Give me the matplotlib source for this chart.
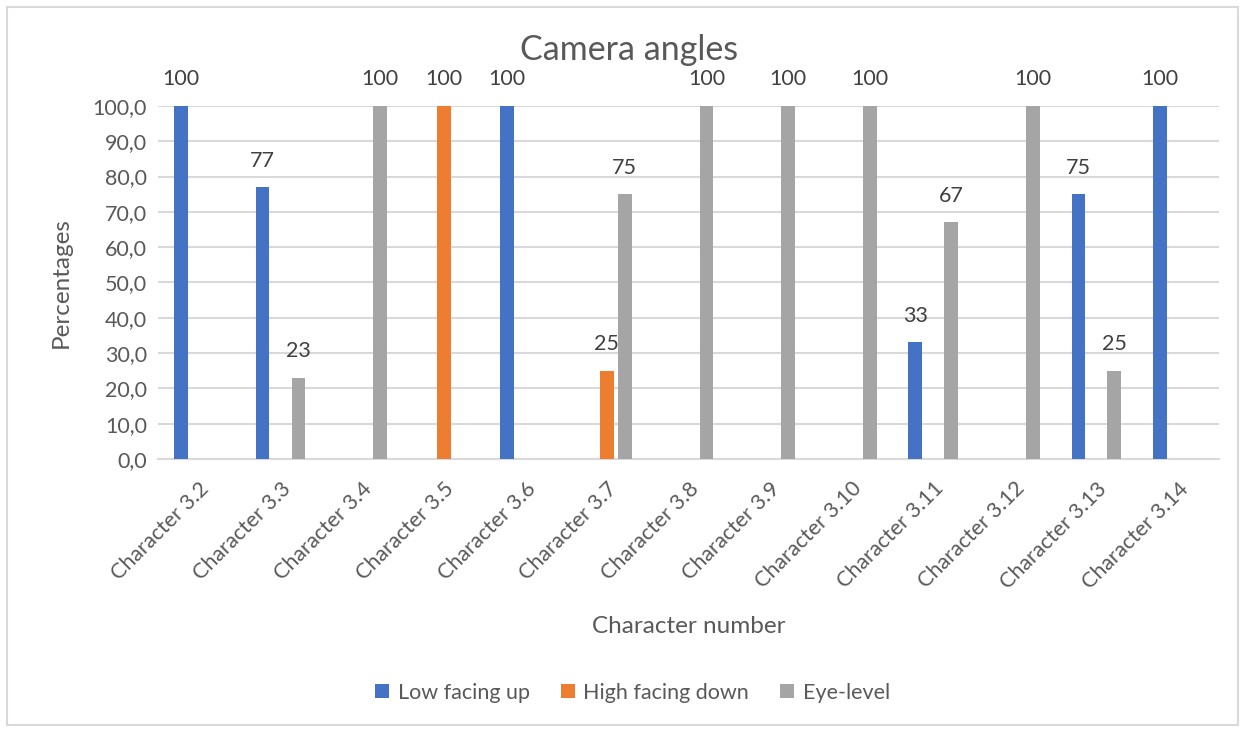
import numpy as np
import matplotlib.pyplot as plt
from matplotlib.patches import Rectangle

plt.rcParams['font.family'] = ['Lato', 'DejaVu Sans']

characters = ['Character 3.2', 'Character 3.3', 'Character 3.4', 'Character 3.5',
              'Character 3.6', 'Character 3.7', 'Character 3.8', 'Character 3.9',
              'Character 3.10', 'Character 3.11', 'Character 3.12', 'Character 3.13',
              'Character 3.14']
low_facing_up = [100, 77, 0, 0, 100, 0, 0, 0, 0, 33, 0, 75, 100]
high_facing_down = [0, 0, 0, 100, 0, 25, 0, 0, 0, 0, 0, 0, 0]
eye_level = [0, 23, 100, 0, 0, 75, 100, 100, 100, 67, 100, 25, 0]

series = [
    ('Low facing up', low_facing_up, '#4472C4'),
    ('High facing down', high_facing_down, '#ED7D31'),
    ('Eye-level', eye_level, '#A5A5A5'),
]

text_color = '#595959'
grid_color = '#D9D9D9'

fig = plt.figure(figsize=(12.45, 7.29), dpi=100)
ax = fig.add_axes([0.127, 0.3704, 0.852, 0.4842])

x = np.arange(len(characters))
slot = 0.22
width = 0.17
for i, (name, values, color) in enumerate(series):
    bars = ax.bar(x + (i - 1) * slot, values, width=width, color=color,
                  label=name, zorder=3)
    labels = [f'{v:.0f}' if v > 0 else '' for v in values]
    ax.bar_label(bars, labels=labels, padding=12, fontsize=15.5, color='#404040')

ax.set_xlim(-0.5, len(characters) - 0.5)
ax.set_ylim(0, 100)
ax.set_yticks(np.arange(0, 101, 10))
ax.set_yticklabels([f'{v:.1f}'.replace('.', ',') for v in range(0, 101, 10)])
ax.set_xticks(x)
ax.set_xticklabels(characters, rotation=45, ha='right', rotation_mode='anchor')
ax.tick_params(axis='both', length=0, labelsize=15.5, labelcolor=text_color)
ax.tick_params(axis='x', pad=14)
ax.tick_params(axis='y', pad=8)
ax.yaxis.grid(True, color=grid_color, linewidth=1.5, zorder=0)
for side in ['top', 'right', 'left']:
    ax.spines[side].set_visible(False)
ax.spines['bottom'].set_color(grid_color)
ax.spines['bottom'].set_linewidth(1.5)

ax.set_ylabel('Percentages', fontsize=17.5, color=text_color, labelpad=15)
ax.set_xlabel('Character number', fontsize=17.5, color=text_color, labelpad=17)

fig.text(0.505, 0.932, 'Camera angles', ha='center', va='center',
         fontsize=24.5, color=text_color)

handles, names = ax.get_legend_handles_labels()
fig.legend(handles, names, loc='center', bbox_to_anchor=(0.508, 0.05), ncol=3,
           frameon=False, fontsize=15.5, labelcolor=text_color, handlelength=0.65,
           handleheight=0.65, handletextpad=0.4, columnspacing=1.45)

fig.patches.append(Rectangle((0.006, 0.006), 0.988, 0.985, transform=fig.transFigure,
                             fill=False, edgecolor='#D9D9D9', linewidth=1.5))

fig.savefig('out.png', dpi=100)
